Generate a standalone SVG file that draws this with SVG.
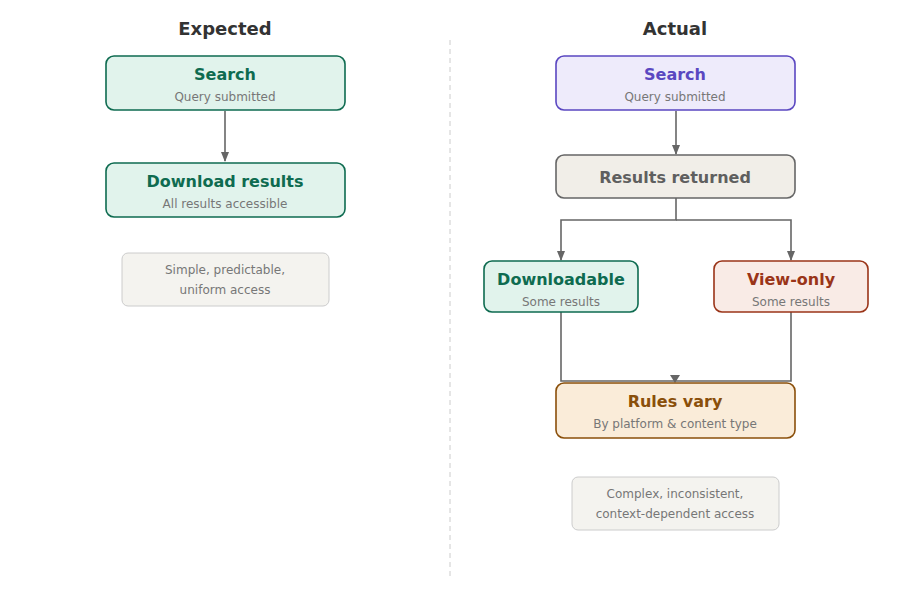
<svg xmlns="http://www.w3.org/2000/svg" width="900" height="600" viewBox="0 0 900 600">
<defs>
<marker id="arr" markerWidth="10" markerHeight="8" refX="9" refY="4" orient="auto" markerUnits="userSpaceOnUse">
<path d="M0,0 L10,4 L0,8 Z" fill="#666"/>
</marker>
<style>
text{font-family:"DejaVu Sans","Liberation Sans",sans-serif;text-anchor:middle}
.h{font-size:18px;font-weight:bold;fill:#333}
.t{font-size:16px;font-weight:bold}
.s{font-size:12px;fill:#777}
.n{font-size:12px;fill:#777}
.box{stroke-width:1.6}
.green{fill:#e1f3ec;stroke:#0e6b50}
.gt{fill:#0e6b50}
.purple{fill:#eeebfb;stroke:#5a47c1}
.pt{fill:#5a47c1}
.grey{fill:#f1eee8;stroke:#666}
.grt{fill:#5f5f5f}
.red{fill:#f9ebe6;stroke:#9a3418}
.rt{fill:#9a3418}
.amber{fill:#faecd9;stroke:#8a4f0a}
.at{fill:#8a4f0a}
.note{fill:#f4f3ef;stroke:#ccc;stroke-width:1}
.c{fill:none;stroke:#666;stroke-width:1.6}
</style>
</defs>
<rect width="900" height="600" fill="#fff"/>
<text class="h" x="225" y="35">Expected</text>
<text class="h" x="675" y="35">Actual</text>
<line x1="450" y1="40" x2="450" y2="580" stroke="#ccc" stroke-width="1" stroke-dasharray="5,4"/>
<g id="connectors">
<line class="c" x1="225" y1="111" x2="225" y2="161" marker-end="url(#arr)"/>
<line class="c" x1="676" y1="111" x2="676" y2="154" marker-end="url(#arr)"/>
<path class="c" d="M676,198 V220 H561 V260" marker-end="url(#arr)"/>
<path class="c" d="M676,220 H791 V260" marker-end="url(#arr)"/>
<path class="c" d="M561,312 V381 H675"/>
<path class="c" d="M791,312 V381 H675"/>
<path d="M670,375 L680,375 L675,383 Z" fill="#666"/>
</g>
<g id="exp-search">
<rect class="box green" x="106" y="56" width="239" height="54" rx="8"/>
<text class="t gt" x="225" y="80">Search</text>
<text class="s" x="225" y="101">Query submitted</text>
</g>
<g id="exp-download">
<rect class="box green" x="106" y="163" width="239" height="54" rx="8"/>
<text class="t gt" x="225" y="187">Download results</text>
<text class="s" x="225" y="208">All results accessible</text>
</g>
<g id="exp-note">
<rect class="note" x="122" y="253" width="207" height="53" rx="6"/>
<text class="n" x="225" y="274">Simple, predictable,</text>
<text class="n" x="225" y="294">uniform access</text>
</g>
<g id="act-search">
<rect class="box purple" x="556" y="56" width="239" height="54" rx="8"/>
<text class="t pt" x="675" y="80">Search</text>
<text class="s" x="675" y="101">Query submitted</text>
</g>
<g id="act-results">
<rect class="box grey" x="556" y="155" width="239" height="43" rx="8"/>
<text class="t grt" x="675" y="183">Results returned</text>
</g>
<g id="act-downloadable">
<rect class="box green" x="484" y="261" width="154" height="51" rx="8"/>
<text class="t gt" x="561" y="285">Downloadable</text>
<text class="s" x="561" y="306">Some results</text>
</g>
<g id="act-viewonly">
<rect class="box red" x="714" y="261" width="154" height="51" rx="8"/>
<text class="t rt" x="791" y="285">View-only</text>
<text class="s" x="791" y="306">Some results</text>
</g>
<g id="act-rules">
<rect class="box amber" x="556" y="383" width="239" height="55" rx="8"/>
<text class="t at" x="675" y="407">Rules vary</text>
<text class="s" x="675" y="428">By platform &amp; content type</text>
</g>
<g id="act-note">
<rect class="note" x="572" y="477" width="207" height="53" rx="6"/>
<text class="n" x="675" y="498">Complex, inconsistent,</text>
<text class="n" x="675" y="518">context-dependent access</text>
</g>
</svg>
